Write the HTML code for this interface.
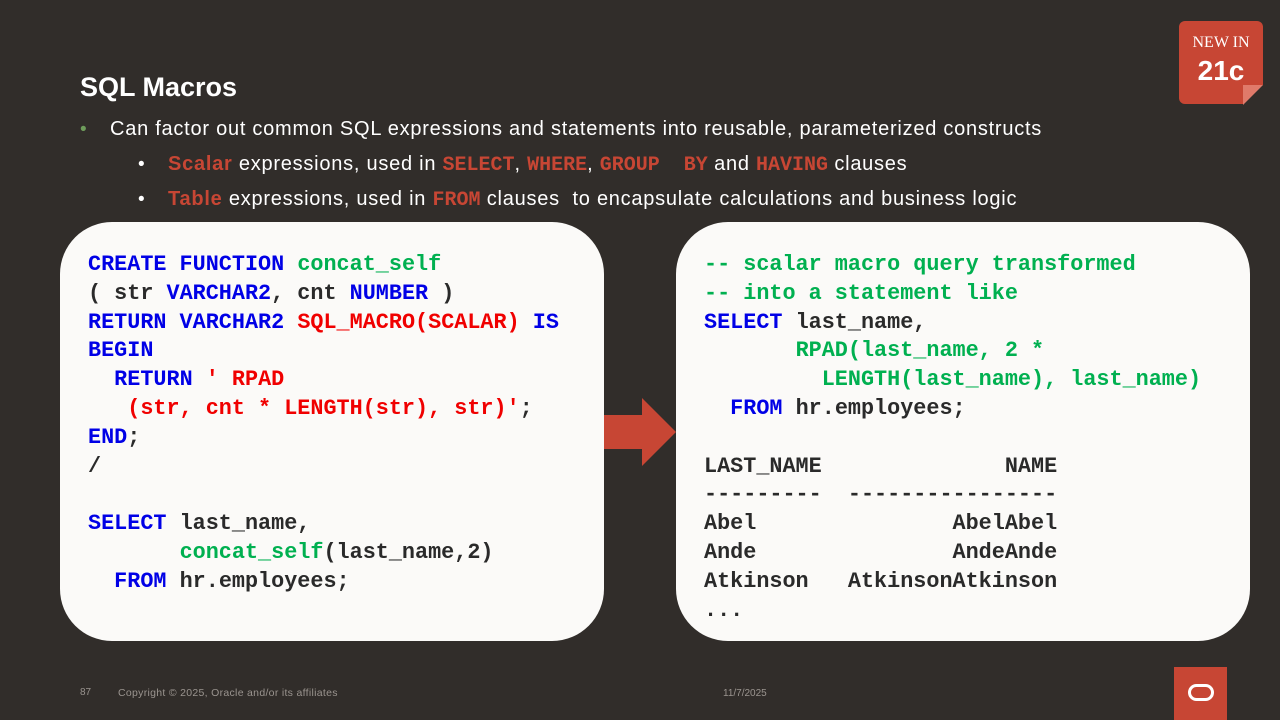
<!DOCTYPE html>
<html><head><meta charset="utf-8"><style>
body{margin:0;width:1280px;height:720px;background:#312d2a;position:relative;overflow:hidden;font-family:"Liberation Sans",sans-serif}
.t{position:absolute;white-space:pre;color:#fff}
.box{position:absolute;background:#fbfaf8;border-radius:52px}
.code{position:absolute;font-family:"Liberation Mono",monospace;font-weight:bold;font-size:21.8px;line-height:28.8px;color:#2a2a2a;white-space:pre;margin:0}
.b{color:#0000e6}.g{color:#00b050}.r{color:#f00000}
.hl{color:#c74634;font-weight:bold}
.m{font-family:"Liberation Mono",monospace;letter-spacing:0}
.bl{font-size:20px;letter-spacing:0.75px}
</style></head><body>
<div class="t" style="left:80px;top:72px;font-size:27px;font-weight:bold">SQL Macros</div>
<div class="t" style="left:80px;top:119px;font-size:19px;color:#6e9c5b">•</div>
<div class="t bl" style="left:110px;top:118px">Can factor out common SQL expressions and statements into reusable, parameterized constructs</div>
<div class="t" style="left:138px;top:154px;font-size:19px">•</div>
<div class="t bl" style="left:168px;top:153px"><span class="hl">Scalar</span> expressions, used in <span class="hl m">SELECT</span>, <span class="hl m">WHERE</span>, <span class="hl m">GROUP  BY</span> and <span class="hl m">HAVING</span> clauses</div>
<div class="t" style="left:138px;top:189px;font-size:19px">•</div>
<div class="t bl" style="left:168px;top:188px"><span class="hl">Table</span> expressions, used in <span class="hl m">FROM</span> clauses  to encapsulate calculations and business logic</div>

<div style="position:absolute;left:1179px;top:21px;width:84px;height:83px;background:#c74634;border-radius:6px"></div>
<div style="position:absolute;left:1243px;top:85px;width:0;height:0;border-left:20px solid #e07a6a;border-bottom:20px solid #312d2a"></div>
<div class="t" style="left:1179px;top:34px;width:84px;text-align:center;font-family:'Liberation Serif',serif;font-size:16px">NEW IN</div>
<div class="t" style="left:1179px;top:55px;width:84px;text-align:center;font-size:28px;font-weight:bold">21c</div>

<div class="box" style="left:60px;top:222px;width:544px;height:419px"></div>
<div class="box" style="left:676px;top:222px;width:574px;height:419px"></div>

<svg style="position:absolute;left:0;top:0" width="1280" height="720"><polygon points="604,415 642,415 642,398 676,432 642,466 642,449 604,449" fill="#c74634"/></svg>

<pre class="code" style="left:88px;top:251px"><span class="b">CREATE FUNCTION</span> <span class="g">concat_self</span>
( str <span class="b">VARCHAR2</span>, cnt <span class="b">NUMBER</span> )
<span class="b">RETURN VARCHAR2</span> <span class="r">SQL_MACRO(SCALAR)</span> <span class="b">IS</span>
<span class="b">BEGIN</span>
  <span class="b">RETURN</span> <span class="r">' RPAD</span>
<span class="r">   (str, cnt * LENGTH(str), str)'</span>;
<span class="b">END</span>;
/

<span class="b">SELECT</span> last_name,
       <span class="g">concat_self</span>(last_name,2)
  <span class="b">FROM</span> hr.employees;</pre>

<pre class="code" style="left:704px;top:251px"><span class="g">-- scalar macro query transformed
-- into a statement like</span>
<span class="b">SELECT</span> last_name,
       <span class="g">RPAD(last_name, 2 *
         LENGTH(last_name), last_name)</span>
  <span class="b">FROM</span> hr.employees;

LAST_NAME              NAME
---------  ----------------
Abel               AbelAbel
Ande               AndeAnde
Atkinson   AtkinsonAtkinson
...</pre>

<div class="t" style="left:80px;top:687px;font-size:10px;color:#9a948f">87</div>
<div class="t" style="left:118px;top:687px;font-size:10.5px;letter-spacing:0.3px;color:#9a948f">Copyright © 2025, Oracle and/or its affiliates</div>
<div class="t" style="left:723px;top:688px;font-size:10px;color:#9a948f">11/7/2025</div>
<div style="position:absolute;left:1174px;top:667px;width:53px;height:53px;background:#c74634"></div>
<div style="position:absolute;left:1188px;top:684px;width:26px;height:17px;border:3px solid #fff;border-radius:9px;box-sizing:border-box"></div>
</body></html>
